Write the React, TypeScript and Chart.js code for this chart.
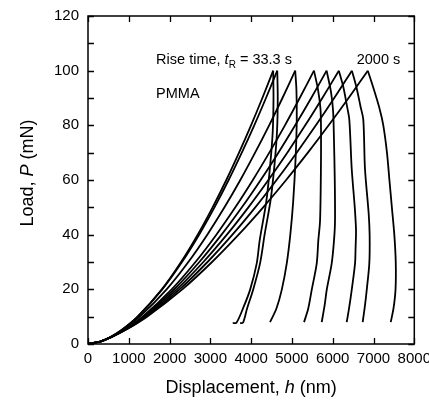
import React, { useEffect, useRef } from "react";
import { Chart, registerables } from "chart.js";

Chart.register(...registerables);

const FONT = "'Liberation Sans', Arial, Helvetica, sans-serif";

// Loading branches: displacement (nm) at each load level (mN)
const loadP = [0, 1, 2.5, 5, 10, 20, 30, 40, 50, 60, 70, 80, 90, 100];
const loadH1 = [0, 327, 552, 820, 1218, 1810, 2282, 2690, 3055, 3391, 3703, 3997, 4275, 4540];
const loadH2 = [0, 319, 543, 813, 1217, 1820, 2304, 2724, 3101, 3448, 3771, 4076, 4364, 4640];
const loadH3 = [0, 317, 551, 836, 1269, 1927, 2460, 2925, 3346, 3735, 4097, 4441, 4768, 5080];
const loadH4 = [0, 323, 568, 872, 1337, 2051, 2635, 3147, 3612, 4042, 4445, 4828, 5191, 5540];
const loadH5 = [0, 317, 566, 879, 1362, 2112, 2730, 3275, 3773, 4234, 4668, 5080, 5473, 5850];
const loadH6 = [0, 315, 569, 890, 1392, 2177, 2828, 3405, 3932, 4423, 4886, 5326, 5746, 6150];
const loadH7 = [0, 313, 571, 902, 1422, 2244, 2930, 3541, 4101, 4623, 5116, 5587, 6037, 6470];
const loadH8 = [0, 305, 567, 906, 1447, 2313, 3041, 3693, 4295, 4858, 5391, 5900, 6389, 6860];

// Unloading branches: displacement (nm) and load (mN)
const unloadH1 = [4540, 4548, 4530, 4470, 4370, 4210, 4137, 3973, 3800, 3640, 3549];
const unloadP1 = [100, 90, 78, 66, 52, 38, 29.5, 19.8, 13, 7.8, 7.6];
const unloadH2 = [4640, 4652, 4635, 4575, 4480, 4330, 4218, 4047, 3900, 3800, 3728];
const unloadP2 = [100, 90, 78, 66, 53, 40, 29.5, 19.8, 13, 7.8, 7.6];
const unloadH3 = [5080, 5110, 5118, 5090, 5030, 4960, 4873, 4750, 4620, 4463];
const unloadP3 = [100, 93, 82, 68, 52, 40, 29.5, 19.8, 13, 8];
const unloadH4 = [5540, 5640, 5700, 5713, 5710, 5689, 5647, 5608, 5485, 5400, 5297];
const unloadP4 = [100, 93, 86, 78, 63, 45, 38, 29.5, 19.8, 13, 8];
const unloadH5 = [5850, 5960, 6010, 6030, 6050, 6056, 6032, 5975, 5853, 5800, 5730];
const unloadP5 = [100, 92, 85, 75, 60, 45, 38, 29.5, 19.8, 14, 8];
const unloadH6 = [6150, 6260, 6350, 6407, 6466, 6540, 6571, 6560, 6547, 6466, 6400, 6343];
const unloadP6 = [100, 94, 87, 82, 64, 50, 41.7, 35, 29.5, 19.8, 13, 8];
const unloadH7 = [6470, 6580, 6680, 6750, 6791, 6880, 6905, 6897, 6834, 6790, 6735];
const unloadP7 = [100, 94, 87, 82, 64, 48, 40, 29.5, 19.8, 14, 8];
const unloadH8 = [6860, 6990, 7150, 7240, 7330, 7390, 7450, 7510, 7545, 7540, 7490, 7422];
const unloadP8 = [100, 94, 86, 80, 70, 60, 50, 40, 30, 20, 13, 8];

const loadingH = [loadH1, loadH2, loadH3, loadH4, loadH5, loadH6, loadH7, loadH8];
const unloadingH = [unloadH1, unloadH2, unloadH3, unloadH4, unloadH5, unloadH6, unloadH7, unloadH8];
const unloadingP = [unloadP1, unloadP2, unloadP3, unloadP4, unloadP5, unloadP6, unloadP7, unloadP8];

const xTicks = [0, 1000, 2000, 3000, 4000, 5000, 6000, 7000, 8000];
const yLabelStep = 20;

type Part = { t: string; f: string; dy?: number };

function drawRich(ctx: CanvasRenderingContext2D, x: number, y: number, parts: Part[], align: "left" | "center" = "left") {
  let total = 0;
  for (const p of parts) {
    ctx.font = p.f;
    total += ctx.measureText(p.t).width;
  }
  let cx = align === "center" ? x - total / 2 : x;
  ctx.textAlign = "left";
  ctx.textBaseline = "alphabetic";
  for (const p of parts) {
    ctx.font = p.f;
    ctx.fillText(p.t, cx, y + (p.dy || 0));
    cx += ctx.measureText(p.t).width;
  }
}

const overlay = {
  id: "overlay",
  afterDraw(chart: any) {
    const { ctx, chartArea: a, scales } = chart;
    const x = scales.x;
    const y = scales.y;
    ctx.save();
    ctx.strokeStyle = "#000";
    ctx.lineWidth = 1.5;
    ctx.strokeRect(a.left, a.top, a.right - a.left, a.bottom - a.top);
    const tl = 6;
    ctx.lineWidth = 1.3;
    ctx.beginPath();
    for (const t of x.ticks) {
      const px = Math.round(x.getPixelForValue(t.value)) + 0.5;
      ctx.moveTo(px, a.bottom);
      ctx.lineTo(px, a.bottom - tl);
      ctx.moveTo(px, a.top);
      ctx.lineTo(px, a.top + tl);
    }
    for (const t of y.ticks) {
      const py = Math.round(y.getPixelForValue(t.value)) + 0.5;
      ctx.moveTo(a.left, py);
      ctx.lineTo(a.left + tl, py);
      ctx.moveTo(a.right, py);
      ctx.lineTo(a.right - tl, py);
    }
    ctx.stroke();

    ctx.fillStyle = "#000";
    const big = `18px ${FONT}`;
    const bigIt = `italic 18px ${FONT}`;
    const ann = `14.5px ${FONT}`;

    // annotations
    drawRich(ctx, x.getPixelForValue(1670), y.getPixelForValue(102.4), [
      { t: "Rise time, ", f: ann },
      { t: "t", f: `italic 14.5px ${FONT}` },
      { t: "R", f: `10px ${FONT}`, dy: 4 },
      { t: " = 33.3 s", f: ann },
    ]);
    drawRich(ctx, x.getPixelForValue(6588), y.getPixelForValue(102.4), [{ t: "2000 s", f: ann }]);
    drawRich(ctx, x.getPixelForValue(1670), y.getPixelForValue(89.9), [{ t: "PMMA", f: ann }]);

    // axis titles
    drawRich(ctx, (a.left + a.right) / 2, 393, [
      { t: "Displacement, ", f: big },
      { t: "h", f: bigIt },
      { t: " (nm)", f: big },
    ], "center");
    ctx.save();
    ctx.translate(33, 173);
    ctx.rotate(-Math.PI / 2);
    drawRich(ctx, 0, 0, [
      { t: "Load, ", f: big },
      { t: "P", f: bigIt },
      { t: " (mN)", f: big },
    ], "center");
    ctx.restore();
    ctx.restore();
  },
};

export default function App() {
  const ref = useRef<HTMLCanvasElement | null>(null);
  useEffect(() => {
    if (!ref.current) return;
    const datasets: any[] = [];
    loadingH.forEach((hs) => {
      datasets.push({
        data: hs.map((h, i) => ({ x: h, y: loadP[i] })),
        borderColor: "#000",
        borderWidth: 1.8,
        pointRadius: 0,
        tension: 0.3,
        fill: false,
      });
    });
    unloadingH.forEach((hs, k) => {
      datasets.push({
        data: hs.map((h, i) => ({ x: h, y: unloadingP[k][i] })),
        borderColor: "#000",
        borderWidth: 1.8,
        pointRadius: 0,
        tension: 0.3,
        fill: false,
      });
    });
    const chart = new Chart(ref.current, {
      type: "line",
      data: { datasets },
      options: {
        animation: false,
        responsive: false,
        maintainAspectRatio: false,
        parsing: false,
        layout: { padding: { top: 16, right: 14.7, bottom: 0, left: 0 } },
        plugins: { legend: { display: false }, tooltip: { enabled: false } },
        scales: {
          x: {
            type: "linear",
            min: 0,
            max: 8000,
            afterFit: (s: any) => {
              s.height = 58;
              s.paddingLeft = 0;
              s.paddingRight = 0;
            },
            afterBuildTicks: (s: any) => {
              s.ticks = xTicks.map((v) => ({ value: v }));
            },
            ticks: {
              callback: (v: any) => String(v),
              font: { family: FONT, size: 15 },
              color: "#000",
              padding: 6,
              maxRotation: 0,
              autoSkip: false,
            },
            grid: { display: false, drawTicks: false },
            border: { display: false },
          },
          y: {
            type: "linear",
            min: 0,
            max: 120,
            afterFit: (s: any) => {
              s.width = 88;
              s.paddingTop = 0;
              s.paddingBottom = 0;
            },
            ticks: {
              stepSize: 10,
              callback: (v: any) => (Number(v) % yLabelStep === 0 ? String(v) : ""),
              font: { family: FONT, size: 15 },
              color: "#000",
              padding: 9,
              autoSkip: false,
            },
            grid: { display: false, drawTicks: false },
            border: { display: false },
          },
        },
      },
      plugins: [overlay],
    } as any);
    return () => chart.destroy();
  }, []);
  return (
    <div style={{ position: "fixed", left: 0, top: 0, width: 429, height: 402, background: "#fff" }}>
      <canvas ref={ref} width={429} height={402} style={{ width: 429, height: 402, display: "block" }} />
    </div>
  );
}
